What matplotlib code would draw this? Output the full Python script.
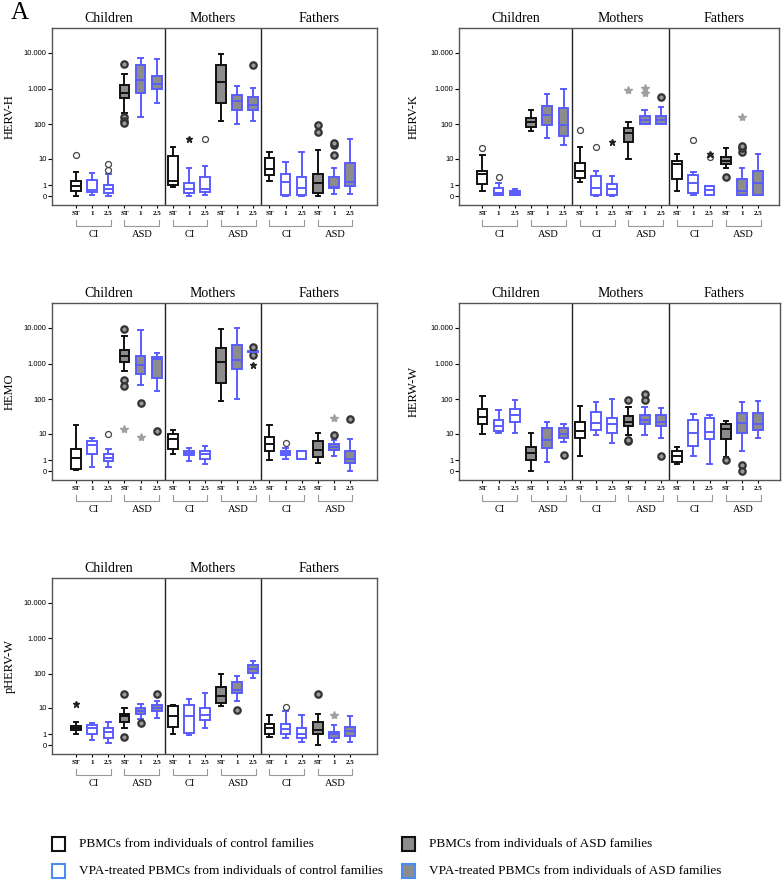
import numpy as np
import matplotlib
matplotlib.use('Agg')
import matplotlib.pyplot as plt
import matplotlib.transforms as mtransforms
from matplotlib.patches import Rectangle
from matplotlib.ticker import NullLocator

SERIF = 'Liberation Serif'
SANS = 'Liberation Sans'
BLACK = '#111111'
BLUE = '#5a5cff'
GREY = '#8c8c8c'

sections = ['Children', 'Mothers', 'Fathers']
groups = ['CI', 'ASD']
tick_labels = ['ST', '1', '2.5'] * 6
ytick_vals = [0, 1, 10, 100, 1000, 10000]
ytick_labels = ['0', '1', '10', '100', '1.000', '10.000']
legend_labels = ['PBMCs from individuals of control families',
                 'PBMCs from individuals of ASD families',
                 'VPA-treated PBMCs from individuals of control families',
                 'VPA-treated PBMCs from individuals of ASD families']

# box rows: whisker low, q1, median, q3, whisker high
# order: Children CI ST/1/2.5, ASD ST/1/2.5, Mothers ..., Fathers ...
herv_h = [
    [0, 0.4, 0.9, 1.6, 3.8], [0.05, 0.3, 0.5, 1.8, 3.5], [0, 0.25, 0.6, 1.0, 3.2],
    [210, 550, 750, 1240, 2470], [160, 750, 1700, 4400, 7200], [395, 940, 1380, 2220, 6500],
    [0.8, 1.0, 1.6, 12, 23], [0, 0.19, 0.57, 1.26, 5], [0.05, 0.32, 0.6, 2.3, 6.1],
    [120, 395, 1500, 4400, 9000], [104, 257, 440, 680, 1150], [120, 257, 355, 585, 1040],
    [1.7, 2.9, 4.6, 10.4, 16.5], [0, 0.09, 1.4, 3.1, 7.8], [0, 0.1, 0.64, 2.5, 16.5],
    [0, 0.19, 1.36, 3.1, 18.5], [0.15, 0.64, 0.83, 2.3, 5], [0.15, 0.9, 1.5, 7.6, 37],
]
herv_h_circles = [(0, 13), (2, 4.2), (2, 7), (3, 4700), (3, 160), (3, 125), (3, 105),
                  (8, 37), (11, 4500), (15, 60), (15, 95), (16, 13), (16, 25), (16, 30)]
herv_h_stars = [(7, 37)]
herv_h_grey_stars = []

herv_k = [
    [0.38, 1.1, 3.0, 4.1, 13], [0.04, 0.1, 0.24, 0.64, 1.36], [0.04, 0.07, 0.22, 0.38, 0.54],
    [66, 84, 113, 150, 257], [40, 97, 187, 333, 710], [25, 47, 97, 287, 980],
    [1.5, 2.1, 4, 7.6, 23], [0.02, 0.07, 0.71, 2.6, 4], [0.02, 0.07, 0.54, 1.1, 2.6],
    [10, 32, 55, 78, 113], [100, 104, 135, 167, 256], [101, 104, 135, 175, 305],
    [0.38, 2, 6.7, 8.6, 14], [0.04, 0.19, 1.36, 2.9, 3.6], [0.07, 0.07, 0.5, 0.95, 0.95],
    [5, 6.9, 8.8, 11.6, 21], [0.04, 0.1, 0.41, 2, 5], [0.04, 0.1, 1.3, 4.1, 14],
]
herv_k_circles = [(0, 21), (1, 2.5), (6, 70), (7, 23), (11, 570), (13, 36), (14, 11),
                  (15, 2.4), (16, 16), (16, 21), (16, 24)]
herv_k_stars = [(8, 32), (14, 14)]
herv_k_grey_stars = [(9, 930), (10, 750), (10, 1030), (16, 160)]

hemo = [
    [0.04, 0.16, 1.3, 3.0, 18], [0.3, 2.06, 4.2, 5.9, 7.1], [0.3, 0.87, 1.36, 2.06, 3.0],
    [630, 1140, 1640, 2400, 6000], [245, 500, 920, 1640, 8400], [175, 405, 1300, 1500, 2000],
    [1.9, 3.2, 6.6, 9.7, 12.8], [0.87, 1.75, 2.2, 2.6, 3.4], [0.6, 1.12, 1.9, 2.6, 3.9],
    [91, 294, 1140, 2700, 9000], [99, 690, 1260, 3320, 9700], [2000, 2050, 2150, 2250, 2400],
    [1.08, 2.6, 4.8, 8, 18], [1.2, 1.75, 2.2, 2.55, 3.4], [1.1, 1.12, 1.2, 2.55, 2.6],
    [0.67, 1.47, 2.8, 5.9, 10.6], [1.6, 2.8, 3.7, 4.6, 6.2], [0, 0.71, 1.2, 2.6, 6.7],
]
hemo_circles = [(2, 10), (3, 9500), (3, 350), (3, 230), (4, 77), (5, 12), (11, 2900),
                (11, 1700), (13, 5.2), (16, 9), (17, 28)]
hemo_stars = [(11, 900)]
hemo_grey_stars = [(3, 14), (4, 8), (16, 29)]

herw_w = [
    [9.9, 19.8, 32, 52.6, 125], [10.4, 12.5, 17.6, 26, 50], [10.9, 22, 36, 54, 97],
    [0, 1.03, 2.27, 3.8, 10.9], [0.75, 3.3, 6.4, 14.7, 23], [5.4, 7.2, 9.7, 14.7, 19.8],
    [1.7, 7.2, 12.5, 23, 65], [9.2, 13, 21.6, 43, 83], [5.2, 10.4, 19.8, 29, 100],
    [9.2, 17.6, 23, 33, 59], [9.2, 19.4, 26, 36, 62], [7.6, 17.6, 23, 36, 56],
    [0.57, 0.75, 1.7, 2.7, 3.6], [1.6, 4, 10.4, 26, 37.8], [0.57, 6.7, 11.6, 29, 36],
    [1.5, 6.9, 13.7, 19.3, 24], [2.6, 10.9, 21.6, 40, 83], [7.2, 13, 19.8, 42, 87],
]
herw_w_circles = [(5, 1.8), (9, 5.8), (9, 6.5), (9, 95), (10, 95), (10, 140), (11, 1.7),
                  (15, 1.0), (16, 0.45), (16, 0)]
herw_w_stars = []
herw_w_grey_stars = []

pherv_w = [
    [1.1, 1.6, 2.06, 2.4, 3.4], [0.35, 1, 2.06, 2.6, 3.2], [0.16, 0.6, 1.3, 2.06, 3.5],
    [2.06, 3.5, 5.5, 6.6, 10.1], [4.5, 6.6, 8, 10, 12.8], [4.8, 8, 9.9, 12.2, 16],
    [1, 2.27, 5.5, 11.4, 12.2], [0.9, 1.2, 5.5, 12.2, 19.3], [2.06, 4, 6.2, 10.1, 28],
    [11.4, 14.4, 22.6, 41, 101], [16, 28, 35, 59, 85], [77, 106, 137, 171, 226],
    [0.71, 1.1, 1.93, 2.96, 5.9], [0.54, 1, 1.9, 2.96, 8], [0.24, 0.54, 1.08, 1.93, 6.2],
    [0, 1, 1.6, 3.4, 6.6], [0.21, 0.54, 1, 1.3, 2.6], [0.21, 0.79, 1.47, 2.2, 5.5],
]
pherv_w_circles = [(3, 0.7), (3, 26), (4, 3.05), (5, 26), (10, 8.4), (13, 10.6), (15, 26)]
pherv_w_stars = [(0, 12.8)]
pherv_w_grey_stars = [(16, 6.2)]


def fwd(x):
    return np.log10(np.maximum(np.asarray(x, dtype=float) + 1, 1e-6))


def inv(y):
    return 10 ** np.asarray(y, dtype=float) - 1


def draw_panel(ax, stats, circles, stars, grey_stars, name, xlim):
    ax.set_yscale('function', functions=(fwd, inv))
    for i, (lo, q1, med, q3, hi) in enumerate(stats):
        kind = i % 6
        edge = BLACK if kind in (0, 3) else BLUE
        face = 'white' if kind < 3 else GREY
        st = [dict(whislo=lo, q1=q1, med=med, q3=q3, whishi=hi, fliers=[])]
        ax.bxp(st, positions=[i], widths=0.6, patch_artist=True, showfliers=False,
               boxprops=dict(facecolor=face, edgecolor=edge, linewidth=1.4),
               medianprops=dict(color=edge, linewidth=1.4),
               whiskerprops=dict(color=edge, linewidth=1.4),
               capprops=dict(color=edge, linewidth=1.4), capwidths=0.27,
               manage_ticks=False)
    for i, v in circles:
        if i % 6 < 3:
            ax.plot([i], [v], 'o', ms=4.3, mfc='white', mec='#444444', mew=0.9)
        else:
            ax.plot([i], [v], 'o', ms=4.6, mfc='#999999', mec='#333333', mew=1.6)
    for i, v in stars:
        ax.plot([i], [v], '*', ms=4.5, color='#222222')
    for i, v in grey_stars:
        ax.plot([i], [v], '*', ms=6, color='#a0a0a0')

    ax.set_xlim(*xlim)
    ax.set_ylim(inv(-0.25), inv(4.69))
    ax.set_yticks(ytick_vals, ytick_labels, fontsize=5.5, fontfamily=SANS)
    ax.yaxis.set_minor_locator(NullLocator())
    ax.tick_params(axis='y', length=3, width=0.8, pad=1)
    ax.set_xticks(range(18), tick_labels, fontsize=5, fontfamily=SERIF, fontweight='bold')
    ax.tick_params(axis='x', length=2, width=0.8, pad=2)
    for sp in ax.spines.values():
        sp.set_color('#555555')
        sp.set_linewidth(1.0)
    ax.axvline(5.5, color='#222222', lw=1)
    ax.axvline(11.5, color='#222222', lw=1)

    trans = mtransforms.blended_transform_factory(ax.transData, ax.transAxes)
    centers = [(xlim[0] + 5.5) / 2, 8.5, (11.5 + xlim[1]) / 2]
    for c, s in zip(centers, sections):
        ax.text(c, 1.056, s, transform=trans, ha='center', va='center',
                fontsize=10, fontfamily=SERIF)
    for g in range(6):
        x0, x1 = g * 3, g * 3 + 2.15
        ax.plot([x0, x0, x1, x1], [-0.085, -0.12, -0.12, -0.085], color='#999999',
                lw=0.8, transform=trans, clip_on=False)
        ax.text((x0 + x1) / 2, -0.165, groups[g % 2], transform=trans, ha='center',
                va='center', fontsize=7.5, fontfamily=SERIF)


W, H = 784, 880
fig = plt.figure(figsize=(W / 100, H / 100), dpi=100)


def add_ax(left, top, right, bottom):
    return fig.add_axes([left / W, 1 - bottom / H, (right - left) / W, (bottom - top) / H])


panels = [
    (add_ax(52, 28, 377, 205), herv_h, herv_h_circles, herv_h_stars, herv_h_grey_stars,
     'HERV-H', (-1.5, 18.68), 10),
    (add_ax(459, 28, 779, 205), herv_k, herv_k_circles, herv_k_stars, herv_k_grey_stars,
     'HERV-K', (-1.44, 18.28), 414),
    (add_ax(52, 303, 377, 480), hemo, hemo_circles, hemo_stars, hemo_grey_stars,
     'HEMO', (-1.5, 18.68), 10),
    (add_ax(459, 303, 780, 480), herw_w, herw_w_circles, herw_w_stars, herw_w_grey_stars,
     'HERW-W', (-1.44, 18.34), 414),
    (add_ax(52, 578, 377, 754), pherv_w, pherv_w_circles, pherv_w_stars, pherv_w_grey_stars,
     'pHERV-W', (-1.5, 18.68), 10),
]

for ax, stats, circ, stars, gstars, name, xlim, lx in panels:
    draw_panel(ax, stats, circ, stars, gstars, name, xlim)
    pos = ax.get_position()
    fig.text(lx / W, pos.y0 + pos.height / 2, name, rotation=90, ha='center', va='center',
             fontsize=9, fontfamily=SERIF)

fig.text(20 / W, 1 - 13 / H, 'A', ha='center', va='center', fontsize=18, fontfamily=SERIF)

# legend
leg_boxes = [(52, 837, 'white', BLACK), (402, 837, GREY, BLACK),
             (52, 864, 'white', '#4a8cf0'), (402, 864, GREY, '#4a8cf0')]
for (x, y, face, edge), lab in zip(leg_boxes, legend_labels):
    fig.add_artist(Rectangle((x / W, 1 - (y + 14) / H), 13 / W, 14 / H,
                             transform=fig.transFigure, facecolor=face, edgecolor=edge,
                             linewidth=1.5))
    fig.text((x + 27) / W, 1 - (y + 7) / H, lab, ha='left', va='center',
             fontsize=9.5, fontfamily=SERIF)

fig.savefig('out.png', dpi=100)
